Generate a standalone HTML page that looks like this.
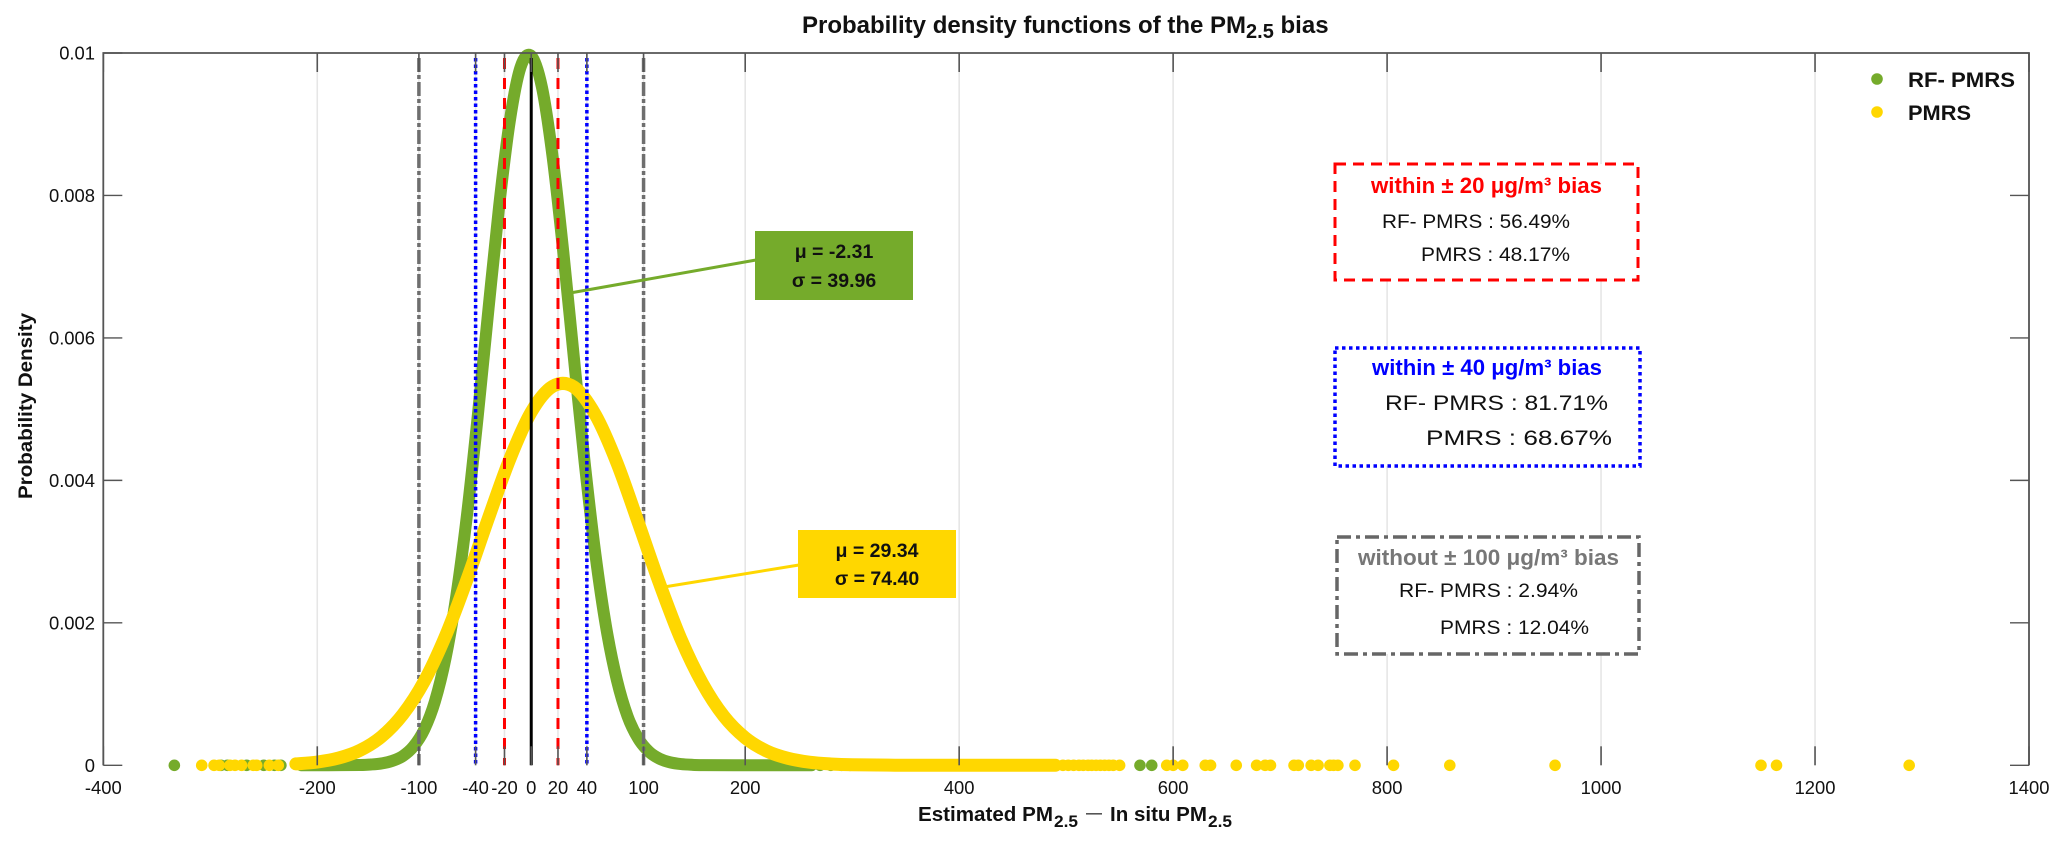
<!DOCTYPE html>
<html lang="en">
<head>
<meta charset="utf-8">
<title>Probability density functions of the PM2.5 bias</title>
<style>
html,body{margin:0;padding:0;background:#fff;}
svg{display:block;font-family:"Liberation Sans",Arial,sans-serif;}
</style>
</head>
<body>
<svg id="chart" xmlns="http://www.w3.org/2000/svg" width="2067" height="847" viewBox="0 0 2067 847">
  <rect x="0" y="0" width="2067" height="847" fill="#fff"/>
  <g id="grid"></g>
  <g id="curves"></g>
  <g id="axes"></g>

  <text x="802" y="33" font-size="24" font-weight="bold" fill="#111">Probability density functions of the PM<tspan font-size="20" dy="5">2.5</tspan><tspan dy="-5"> bias</tspan></text>
  <text transform="translate(32 406) rotate(-90)" text-anchor="middle" font-size="19.5" font-weight="bold" fill="#111" textLength="186" lengthAdjust="spacingAndGlyphs">Probability Density</text>
  <g font-size="20" font-weight="bold" fill="#111">
    <text x="918" y="821" textLength="135" lengthAdjust="spacingAndGlyphs">Estimated PM</text>
    <text x="1054" y="827" font-size="17" textLength="24" lengthAdjust="spacingAndGlyphs">2.5</text>
    <rect x="1086" y="813" width="16" height="1.6" fill="#555"/>
    <text x="1110" y="821" textLength="97" lengthAdjust="spacingAndGlyphs">In situ PM</text>
    <text x="1208" y="827" font-size="17" textLength="24" lengthAdjust="spacingAndGlyphs">2.5</text>
  </g>

  <line x1="570" y1="293" x2="756" y2="260" stroke="#75ab2b" stroke-width="3"/>
  <line x1="664" y1="587" x2="799" y2="565" stroke="#ffd700" stroke-width="3"/>
  <g>
    <rect x="755" y="231" width="158" height="69" fill="#75ab2b"/>
    <text x="834" y="258" text-anchor="middle" font-size="19.5" font-weight="bold" fill="#111">μ = -2.31</text>
    <text x="834" y="287" text-anchor="middle" font-size="19.5" font-weight="bold" fill="#111">σ = 39.96</text>
  </g>
  <g>
    <rect x="798" y="530" width="158" height="68" fill="#ffd700"/>
    <text x="877" y="557" text-anchor="middle" font-size="19.5" font-weight="bold" fill="#111">μ = 29.34</text>
    <text x="877" y="585" text-anchor="middle" font-size="19.5" font-weight="bold" fill="#111">σ = 74.40</text>
  </g>

  <g>
    <rect x="1335" y="164" width="303" height="116" fill="#fff" stroke="#ff0000" stroke-width="3" stroke-dasharray="11 7"/>
    <text x="1371" y="193" font-size="22" font-weight="bold" fill="#ff0000" textLength="231" lengthAdjust="spacingAndGlyphs">within ± 20 μg/m³ bias</text>
    <text x="1382" y="228" font-size="19.5" fill="#111" textLength="188" lengthAdjust="spacingAndGlyphs">RF- PMRS : 56.49%</text>
    <text x="1421" y="261" font-size="19.5" fill="#111" textLength="149" lengthAdjust="spacingAndGlyphs">PMRS : 48.17%</text>
  </g>
  <g>
    <rect x="1335" y="348" width="305" height="118" fill="#fff" stroke="#0000ff" stroke-width="3.5" stroke-dasharray="3.5 3.5"/>
    <text x="1372" y="375" font-size="22" font-weight="bold" fill="#0000ff" textLength="230" lengthAdjust="spacingAndGlyphs">within ± 40 μg/m³ bias</text>
    <text x="1385" y="410" font-size="21" fill="#111" textLength="223" lengthAdjust="spacingAndGlyphs">RF- PMRS : 81.71%</text>
    <text x="1426" y="445" font-size="21" fill="#111" textLength="186" lengthAdjust="spacingAndGlyphs">PMRS : 68.67%</text>
  </g>
  <g>
    <rect x="1337" y="537" width="302" height="117" fill="#fff" stroke="#666" stroke-width="3.5" stroke-dasharray="14 5 4 5"/>
    <text x="1358" y="565" font-size="22" font-weight="bold" fill="#777" textLength="261" lengthAdjust="spacingAndGlyphs">without ± 100 μg/m³ bias</text>
    <text x="1399" y="597" font-size="19.5" fill="#111" textLength="179" lengthAdjust="spacingAndGlyphs">RF- PMRS : 2.94%</text>
    <text x="1440" y="634" font-size="19.5" fill="#111" textLength="149" lengthAdjust="spacingAndGlyphs">PMRS : 12.04%</text>
  </g>

  <g>
    <g>
      <circle cx="1877" cy="79" r="5.8" fill="#75ab2b"/>
      <text x="1908" y="87" font-size="21.5" font-weight="bold" fill="#111" textLength="107" lengthAdjust="spacingAndGlyphs">RF- PMRS</text>
    </g>
    <g>
      <circle cx="1877" cy="112" r="5.8" fill="#ffd700"/>
      <text x="1908" y="120" font-size="21.5" font-weight="bold" fill="#111" textLength="63" lengthAdjust="spacingAndGlyphs">PMRS</text>
    </g>
  </g>
</svg>

<script>
const xTickValues = [-400, -200, -105, -52, -25, 0, 25, 52, 105, 200, 400, 600, 800, 1000, 1200, 1400];
const xTickLabels = ['-400', '-200', '-100', '-40', '-20', '0', '20', '40', '100', '200', '400', '600', '800', '1000', '1200', '1400'];
const yTickValues = [0, 0.002, 0.004, 0.006, 0.008, 0.01];
const yTickLabels = ['0', '0.002', '0.004', '0.006', '0.008', '0.01'];

const greenX = [-215, -190, -160, -150, -140, -130, -120, -110, -100, -90, -80, -70, -60, -50, -40, -30, -20, -10, 0, 10, 20, 30, 40, 50, 60, 70, 80, 90, 100, 110, 120, 130, 140, 150, 160, 190, 262];
const greenDensity = [0, 0.000001, 0.000004, 0.000011, 0.000026, 0.000061, 0.00013, 0.000265, 0.000502, 0.000898, 0.00151, 0.00238, 0.00352, 0.0049, 0.0064, 0.00785, 0.00905, 0.0098, 0.00996, 0.00952, 0.00854, 0.0072, 0.0057, 0.00424, 0.00296, 0.00194, 0.0012, 0.00069, 0.000376, 0.000192, 0.000092, 0.000041, 0.000017, 0.000007, 0.000003, 0, 0];

const yellowX = [-220, -200, -180, -160, -140, -120, -100, -80, -60, -40, -20, 0, 20, 40, 60, 80, 100, 120, 140, 160, 180, 200, 220, 240, 260, 280, 300, 340, 400, 490];
const yellowDensity = [0.00002, 0.000046, 0.000102, 0.00021, 0.000402, 0.000715, 0.00118, 0.00182, 0.00261, 0.00347, 0.0043, 0.00496, 0.00532, 0.00531, 0.00492, 0.00425, 0.00341, 0.00255, 0.00177, 0.00115, 0.00069, 0.000386, 0.000201, 0.000098, 0.000044, 0.000019, 0.000007, 0.000001, 0, 0];

const greenRug = [-333.6, -290, -284, -266, -250, -240, -234, 270, 280, 290, 298, 569, 580];
const yellowRug = [-308, -296.5, -291.6, -281.6, -276.9, -270.7, -259.8, -256.6, -244.8, -236.4, 497, 502, 507, 512, 516, 520.5, 524, 528, 532, 536, 540, 544, 550, 594, 600, 609, 630, 635, 659, 678, 686, 691, 713, 717, 729, 735.5, 746.5, 750, 754, 770, 806, 858.6, 957, 1149.5, 1164, 1288];

const redLines = [-25, 25];
const blueLines = [-52, 52];
const grayLines = [-105, 105];
const zeroLine = [0];

const NS = 'http://www.w3.org/2000/svg';
const xMin = -400, xMax = 1400, yMin = 0, yMax = 0.01;
const plotL = 103.3, plotR = 2029, plotT = 53, plotB = 765.3;
const xScale = v => plotL + (v - xMin) / (xMax - xMin) * (plotR - plotL);
const yScale = v => plotB - (v - yMin) / (yMax - yMin) * (plotB - plotT);

function make(parent, tag, attrs) {
  const el = document.createElementNS(NS, tag);
  for (const k in attrs) el.setAttribute(k, attrs[k]);
  parent.appendChild(el);
  return el;
}

function smoothPath(xs, ys) {
  const p = xs.map((x, i) => [xScale(x), yScale(ys[i])]);
  let d = 'M' + p[0][0].toFixed(2) + ' ' + p[0][1].toFixed(2);
  for (let i = 0; i < p.length - 1; i++) {
    const p0 = p[Math.max(i - 1, 0)], p1 = p[i], p2 = p[i + 1], p3 = p[Math.min(i + 2, p.length - 1)];
    const k = 6;
    const c1x = p1[0] + (p2[0] - p0[0]) / k, c1y = Math.min(p1[1] + (p2[1] - p0[1]) / k, plotB);
    const c2x = p2[0] - (p3[0] - p1[0]) / k, c2y = Math.min(p2[1] - (p3[1] - p1[1]) / k, plotB);
    d += 'C' + c1x.toFixed(2) + ' ' + c1y.toFixed(2) + ' ' + c2x.toFixed(2) + ' ' + c2y.toFixed(2) + ' ' + p2[0].toFixed(2) + ' ' + p2[1].toFixed(2);
  }
  return d;
}

const grid = document.getElementById('grid');
const curves = document.getElementById('curves');
const axes = document.getElementById('axes');

xTickValues.forEach(v => {
  const g = make(grid, 'line', {x1: xScale(v), x2: xScale(v), y1: plotT, y2: plotB, stroke: '#e6e6e6', 'stroke-width': 1.6});
  
  
});

const greenLine = make(curves, 'path', {d: smoothPath(greenX, greenDensity), fill: 'none', stroke: '#75ab2b', 'stroke-width': 12, 'stroke-linecap': 'round', 'stroke-linejoin': 'round'});



greenRug.forEach(v => {
  const c = make(curves, 'circle', {cx: xScale(v), cy: yScale(0), r: 5.8, fill: '#75ab2b'});
  
  
});

function vLines(values, color, width, dash, name) {
  values.forEach(v => {
    const l = make(curves, 'line', {x1: xScale(v), x2: xScale(v), y1: 58, y2: plotB, stroke: color, 'stroke-width': width, 'stroke-dasharray': dash});
    
    
  });
}

vLines(grayLines, '#6e6e6e', 3.5, '14 3 4 3', 'bias-100-line');

const yellowLine = make(curves, 'path', {d: smoothPath(yellowX, yellowDensity), fill: 'none', stroke: '#ffd700', 'stroke-width': 13, 'stroke-linecap': 'round', 'stroke-linejoin': 'round'});



yellowRug.forEach(v => {
  const c = make(curves, 'circle', {cx: xScale(v), cy: yScale(0), r: 5.8, fill: '#ffd700'});
  
  
});

vLines(blueLines, '#0000ff', 3.5, '3.5 3', 'bias-40-line');
vLines(redLines, '#ff0000', 3, '11 9', 'bias-20-line');
vLines(zeroLine, '#000000', 3, 'none', 'zero-bias-line');

const frame = make(axes, 'path', {d: 'M' + plotL + ' ' + plotB + 'V' + plotT + 'H' + plotR + 'V' + plotB, fill: 'none', stroke: '#555', 'stroke-width': 1.8});



xTickValues.forEach((v, i) => {
  const t1 = make(axes, 'line', {x1: xScale(v), x2: xScale(v), y1: plotT, y2: plotT + 19, stroke: '#555', 'stroke-width': 1.6});
  
  
  const t2 = make(axes, 'line', {x1: xScale(v), x2: xScale(v), y1: plotB, y2: plotB - 19, stroke: '#555', 'stroke-width': 1.6});
  
  
  const lab = make(axes, 'text', {x: xScale(v), y: 794, 'text-anchor': 'middle', 'font-size': 18.4, fill: '#111'});
  
  
  lab.textContent = xTickLabels[i];
});

yTickValues.forEach((v, i) => {
  const t1 = make(axes, 'line', {x1: plotL, x2: plotL + 19, y1: yScale(v), y2: yScale(v), stroke: '#555', 'stroke-width': 1.4});
  
  
  const t2 = make(axes, 'line', {x1: plotR, x2: plotR - 19, y1: yScale(v), y2: yScale(v), stroke: '#555', 'stroke-width': 1.4});
  
  
  const lab = make(axes, 'text', {x: 95, y: yScale(v) + 6.5, 'text-anchor': 'end', 'font-size': 18.4, fill: '#111'});
  
  
  lab.textContent = yTickLabels[i];
});
</script>
</body>
</html>
